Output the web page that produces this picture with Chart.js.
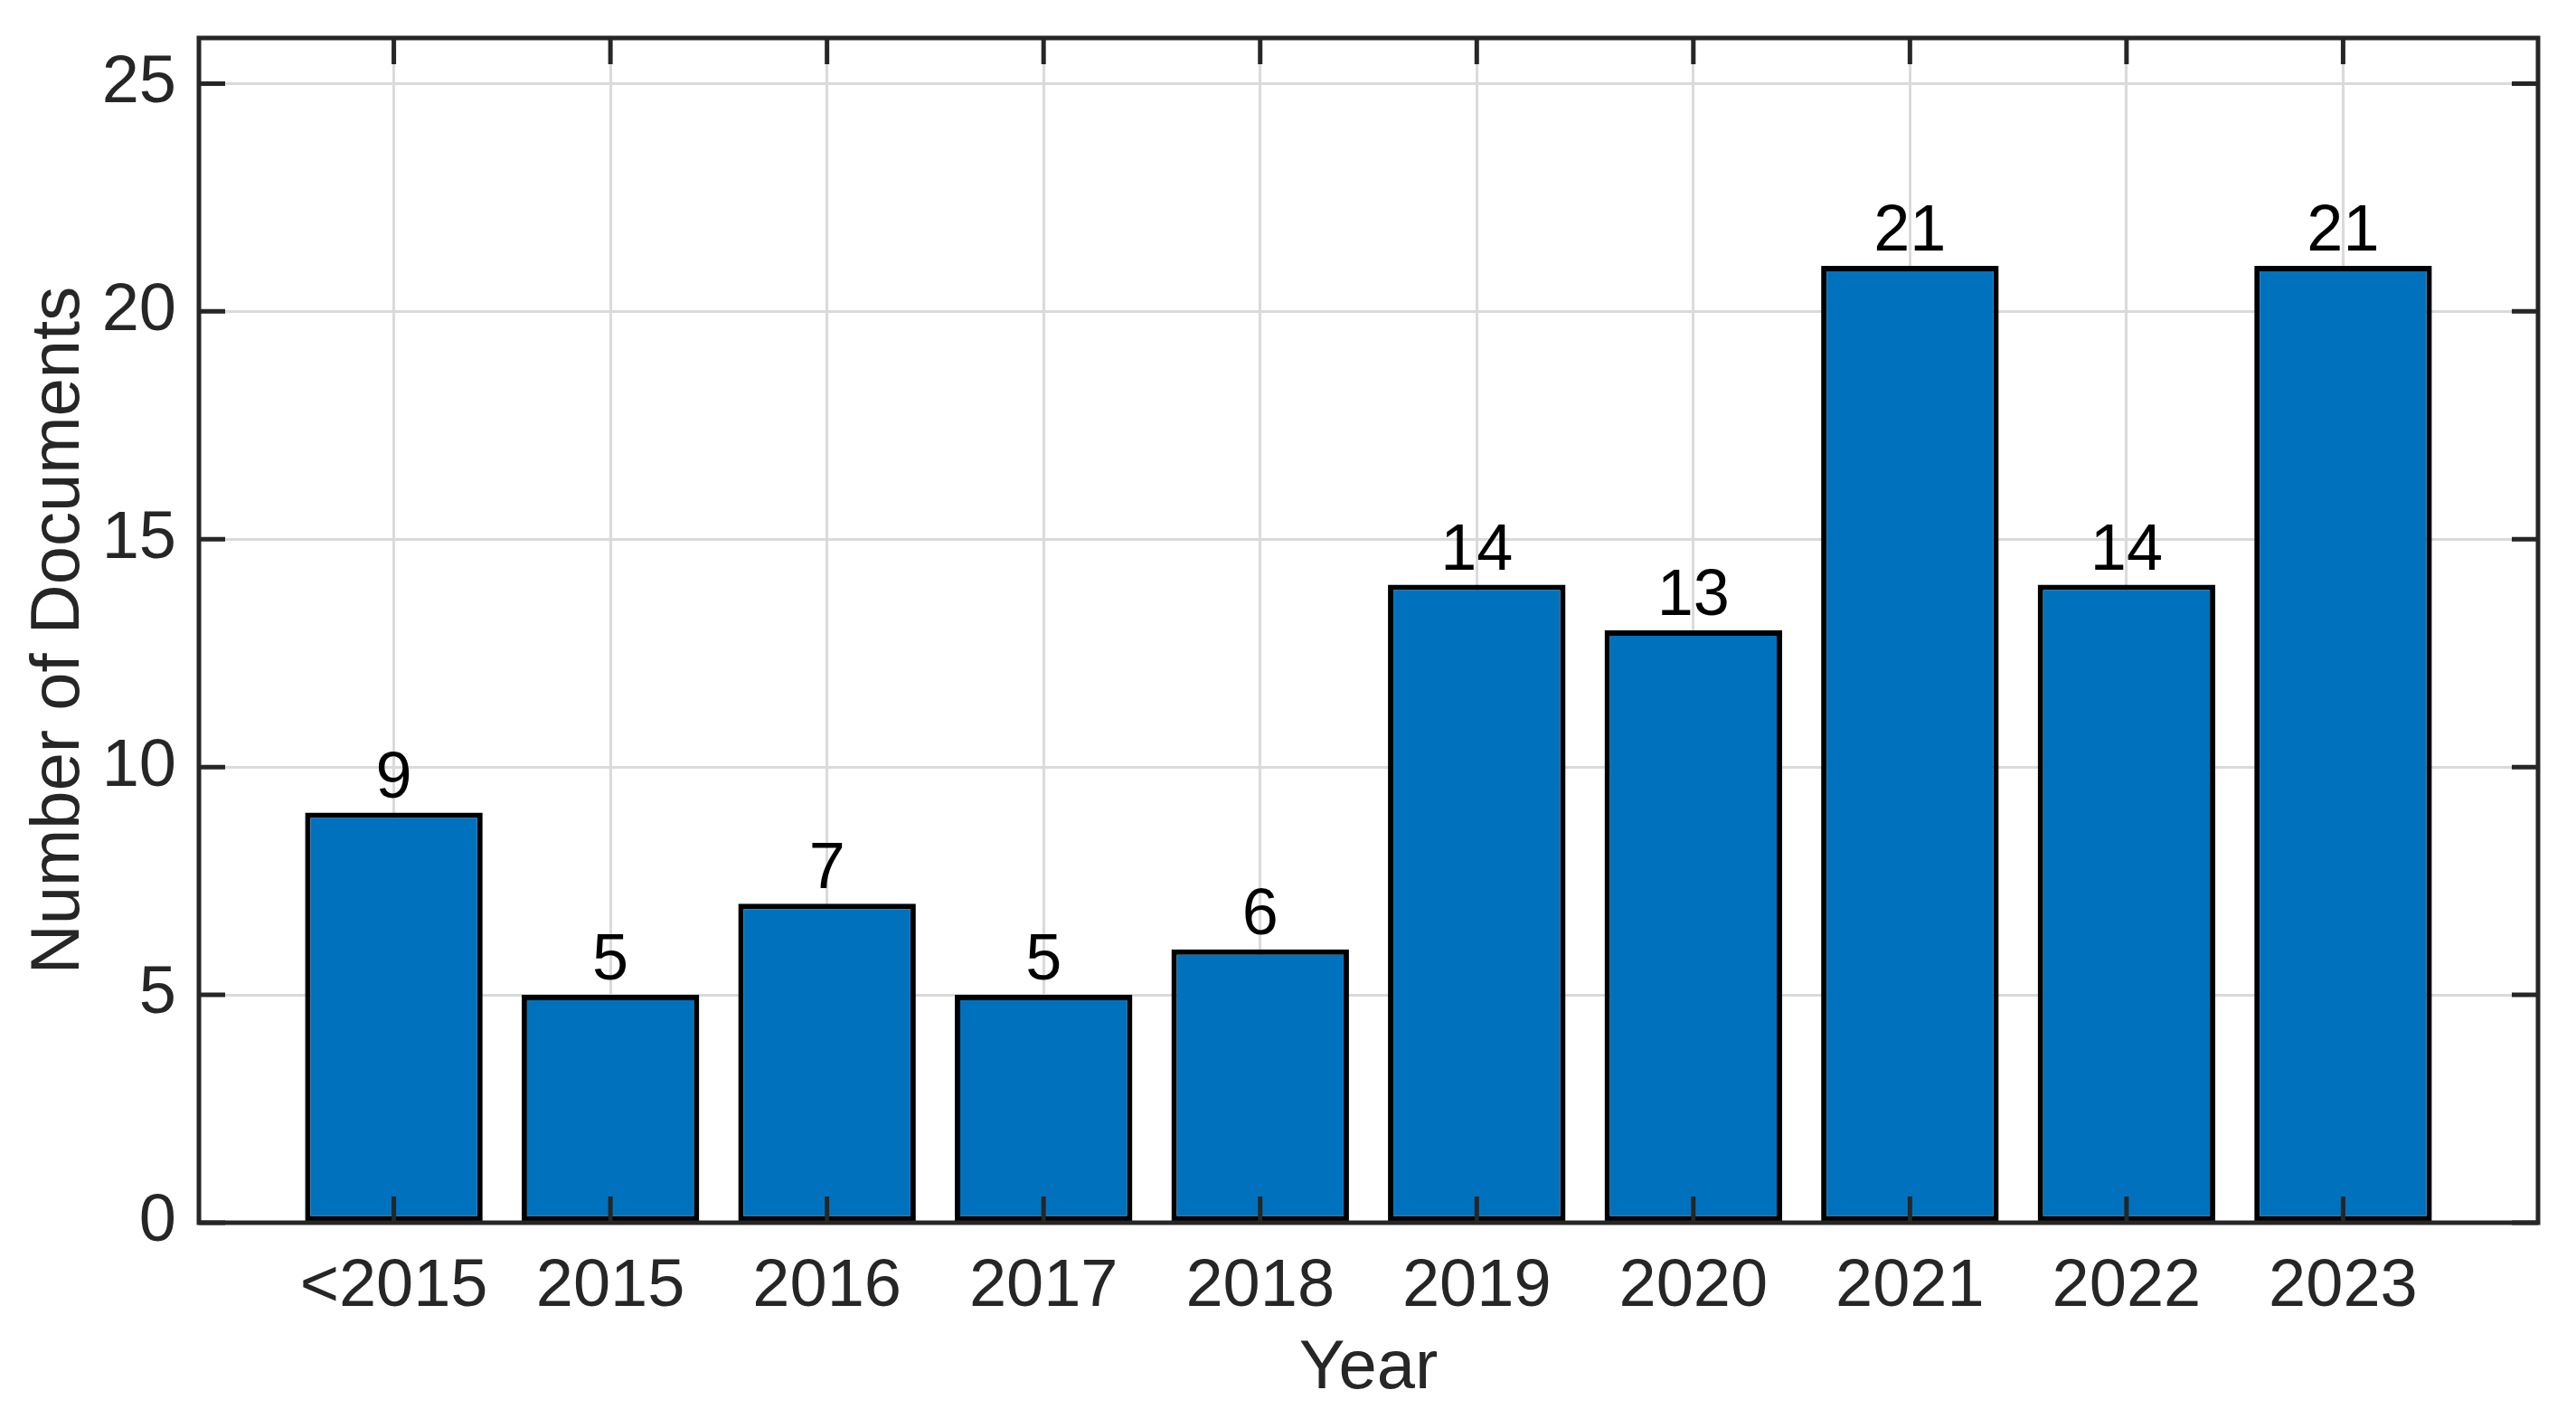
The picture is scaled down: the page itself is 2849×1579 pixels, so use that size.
<!DOCTYPE html>
<html>
<head>
<meta charset="utf-8">
<script src="https://cdn.jsdelivr.net/npm/chart.js@4/dist/chart.umd.min.js"></script>
<style>
  html, body { margin: 0; padding: 0; background: #ffffff; }
  #wrap { width: 2849px; height: 1579px; }
</style>
</head>
<body>
<div id="wrap"><canvas id="chartDocs"></canvas></div>
<script>
// Documents per year
const categories = ["<2015", "2015", "2016", "2017", "2018", "2019", "2020", "2021", "2022", "2023"];
const documents = [9, 5, 7, 5, 6, 14, 13, 21, 14, 21];
const yTicks = [0, 5, 10, 15, 20, 25];
const yMax = 26;

const FONT = "'Liberation Sans', Arial, Helvetica, sans-serif";
const AXIS_COLOR = "#262626";
const GRID_COLOR = "#dadada";
const BAR_BLUE = "#0072BD";

// MATLAB-style box with inward ticks on all four sides
const boxPlugin = {
  id: "matlabBox",
  afterDatasetsDraw(chart) {
    const { ctx, chartArea: a, scales } = chart;
    const tickLen = 29;
    ctx.save();
    ctx.strokeStyle = AXIS_COLOR;
    ctx.lineWidth = 5;
    ctx.beginPath();
    scales.x.ticks.forEach(t => {
      const px = scales.x.getPixelForValue(t.value);
      ctx.moveTo(px, a.bottom); ctx.lineTo(px, a.bottom - tickLen);
      ctx.moveTo(px, a.top); ctx.lineTo(px, a.top + tickLen);
    });
    scales.y.ticks.forEach(t => {
      const py = scales.y.getPixelForValue(t.value);
      ctx.moveTo(a.left, py); ctx.lineTo(a.left + tickLen, py);
      ctx.moveTo(a.right, py); ctx.lineTo(a.right - tickLen, py);
    });
    ctx.stroke();
    ctx.lineJoin = "miter";
    ctx.strokeRect(a.left, a.top, a.right - a.left, a.bottom - a.top);
    ctx.restore();
  }
};

// Value labels above each bar
const valueLabels = {
  id: "valueLabels",
  afterDatasetsDraw(chart) {
    const { ctx } = chart;
    const meta = chart.getDatasetMeta(0);
    ctx.save();
    ctx.fillStyle = "#000000";
    ctx.font = "72px " + FONT;
    ctx.textAlign = "center";
    ctx.textBaseline = "alphabetic";
    meta.data.forEach((bar, i) => {
      ctx.fillText(String(documents[i]), bar.x, bar.y - 17);
    });
    ctx.restore();
  }
};

// no extra room for overhanging tick labels: keep the plot box where the figure has it
function noLabelPadding(scale) {
  scale.paddingTop = 0;
  scale.paddingBottom = 0;
  scale.paddingLeft = 0;
  scale.paddingRight = 0;
}

new Chart(document.getElementById("chartDocs"), {
  type: "bar",
  data: {
    datasets: [{
      data: documents.map((v, i) => ({ x: i + 1, y: v })),
      backgroundColor: BAR_BLUE,
      borderColor: "#000000",
      borderWidth: 6,
      borderSkipped: false,
      categoryPercentage: 1,
      barPercentage: 0.82
    }]
  },
  options: {
    responsive: true,
    maintainAspectRatio: false,
    animation: false,
    layout: { padding: { top: 42, right: 42, left: 0, bottom: 0 } },
    plugins: {
      legend: { display: false },
      tooltip: { enabled: false }
    },
    scales: {
      x: {
        type: "linear",
        min: 0.1,
        max: 10.9,
        offset: false,
        afterBuildTicks: scale => { scale.ticks = categories.map((_, i) => ({ value: i + 1 })); },
        afterFit: scale => { scale.height = 227; noLabelPadding(scale); },
        grid: { color: GRID_COLOR, lineWidth: 3, drawTicks: false, offset: false },
        border: { display: false },
        ticks: {
          color: AXIS_COLOR,
          padding: 27,
          maxRotation: 0,
          autoSkip: false,
          font: { family: FONT, size: 74 },
          callback: v => categories[v - 1]
        },
        title: {
          display: true,
          text: "Year",
          color: AXIS_COLOR,
          font: { family: FONT, size: 76 },
          padding: { top: 0, bottom: 19 }
        }
      },
      y: {
        min: 0,
        max: yMax,
        afterBuildTicks: scale => { scale.ticks = yTicks.map(v => ({ value: v })); },
        afterFit: scale => { scale.width = 220; noLabelPadding(scale); },
        grid: { color: GRID_COLOR, lineWidth: 3, drawTicks: false },
        border: { display: false },
        ticks: {
          color: AXIS_COLOR,
          padding: 25,
          font: { family: FONT, size: 74 }
        },
        title: {
          display: true,
          text: "Number of Documents",
          color: AXIS_COLOR,
          font: { family: FONT, size: 76 },
          padding: { top: 20, bottom: 0 }
        }
      }
    }
  },
  plugins: [boxPlugin, valueLabels]
});
</script>
</body>
</html>
